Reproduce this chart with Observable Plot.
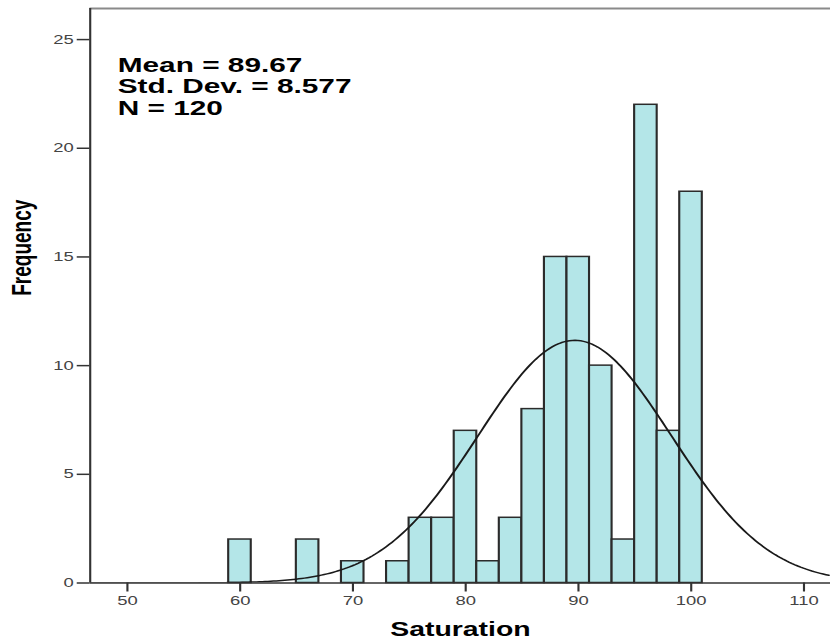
<!DOCTYPE html>
<html>
<head>
<meta charset="utf-8">
<script src="https://cdn.jsdelivr.net/npm/d3@7"></script>
<script src="https://cdn.jsdelivr.net/npm/@observablehq/plot@0.6"></script>
<style>
  html, body { margin: 0; padding: 0; background: #fff; }
  #chart { width: 830px; height: 644px; overflow: hidden; }
</style>
</head>
<body>
<div id="chart"></div>
<script>
// Histogram bins (start of each 2-unit bin) and counts
const binStarts = [59, 65, 69, 73, 75, 77, 79, 81, 83, 85, 87, 89, 91, 93, 95, 97, 99];
const counts    = [ 2,  2,  1,  1,  3,  3,  7,  1,  3,  8, 15, 15, 10,  2, 22,  7, 18];
const binWidth = 2;
const xTicks = [50, 60, 70, 80, 90, 100, 110];
const yTicks = [0, 5, 10, 15, 20, 25];
const statsLines = ["Mean = 89.67", "Std. Dev. = 8.577", "N = 120"];
const mean = 89.67;
const sd = 8.577;
const n = 120;

const xDomain = [46.7, 112.37];
const yDomain = [0, 26.43];

// The reference image is horizontally stretched; draw in a narrower space and stretch
const stretch = 1.42;
const W = 830 / stretch;

const bars = binStarts.map((s, i) => ({x1: s, x2: s + binWidth, count: counts[i]}));

// Fitted normal curve from the stated mean and SD (as drawn by the chart)
const curveX = d3.range(xDomain[0], xDomain[1] + 0.001, 0.25);
const curve = curveX.map(x => ({
  x,
  y: n * binWidth * Math.exp(-0.5 * ((x - mean) / sd) ** 2) / (sd * Math.sqrt(2 * Math.PI))
}));

const chart = Plot.plot({
  width: W,
  height: 644,
  marginLeft: 89.5 / stretch,
  marginRight: 0,
  marginTop: 8,
  marginBottom: 61.5,
  style: {fontFamily: "'Liberation Sans', Arial, sans-serif", background: "#fff"},
  x: {domain: xDomain, ticks: xTicks, label: null},
  y: {domain: yDomain, ticks: yTicks, label: null},
  marks: [
    Plot.rectY(bars, {x1: "x1", x2: "x2", y: "count", fill: "#b4e6e8", stroke: "#2b2b2b", strokeWidth: 1.5, inset: 0}),
    Plot.line(curve, {x: "x", y: "y", stroke: "#1a1a1a", strokeWidth: 1.5, clip: true}),
    Plot.ruleY([yDomain[1]], {stroke: "#8a8a8a", strokeWidth: 2.2}),
    Plot.ruleX([xDomain[0]], {stroke: "#333", strokeWidth: 1.5}),
    Plot.ruleY([0], {stroke: "#333", strokeWidth: 1.5}),
    Plot.axisX({ticks: xTicks, tickSize: 9, tickPadding: 4, fontSize: 13, stroke: "#333", strokeWidth: 1.5, color: "#444", label: null}),
    Plot.axisY({ticks: yTicks, tickSize: 9, tickPadding: 2.5, fontSize: 13, stroke: "#333", strokeWidth: 1.5, color: "#444", label: null}),
    Plot.text([statsLines.join("\n")], {
      frameAnchor: "top-left", dx: 27.5 / stretch, dy: 48, lineAnchor: "top", textAnchor: "start",
      fontSize: 21, fontWeight: "bold", lineHeight: 1.03, fill: "#000"
    }),
    Plot.text(["Frequency"], {
      frameAnchor: "left", dx: -(89.5 - 22) / stretch, rotate: -90, fontSize: 19, fontWeight: "bold", fill: "#000"
    }),
    Plot.text(["Saturation"], {
      frameAnchor: "bottom", dy: 47, lineAnchor: "middle", fontSize: 20, fontWeight: "bold", fill: "#000"
    })
  ]
});
chart.setAttribute("width", 830);
chart.setAttribute("height", 644);
chart.setAttribute("preserveAspectRatio", "none");
chart.style.width = "830px";
chart.style.height = "644px";
chart.style.maxWidth = "none";
document.getElementById("chart").appendChild(chart);
</script>
</body>
</html>
